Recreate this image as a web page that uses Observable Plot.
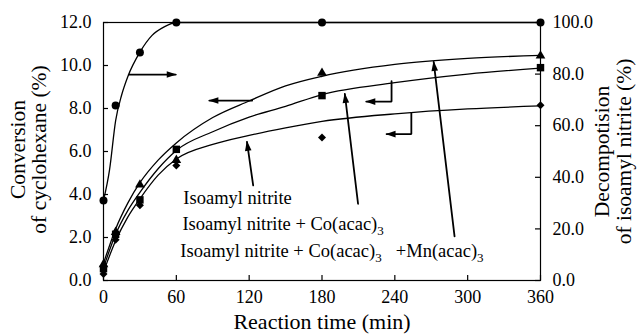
<!DOCTYPE html>
<html><head><meta charset="utf-8">
<script src="https://cdn.jsdelivr.net/npm/d3@7"></script>
<script src="https://cdn.jsdelivr.net/npm/@observablehq/plot@0.6"></script>
<style>
body{margin:0;background:#fff}
</style>
</head><body><div id="chart"></div>
<script>
// measured data (conversion %, decomposition %)
const time = [0, 10, 30, 60, 180, 360];
const nitrite = [0.3, 1.9, 3.5, 5.35, 6.65, 8.15];
const cobalt = [0.55, 2.15, 3.75, 6.1, 8.6, 9.9];
const cobaltMn = [0.75, 2.25, 4.45, 5.6, 9.65, 10.45];
const decomposition = [31, 67.8, 88.4, 100, 100, 100];

// fitted curves
const fitTime = [0, 10, 20, 30, 45, 60, 90, 120, 150, 180, 240, 300, 360];
const fitNitrite = [0.4, 1.85, 2.95, 3.8, 4.9, 5.65, 6.33, 6.75, 7.1, 7.4, 7.75, 7.98, 8.12];
const fitCobalt = [0.6, 2.15, 3.25, 4.1, 5.2, 6.05, 6.92, 7.6, 8.1, 8.65, 9.2, 9.6, 9.88];
const fitCobaltMn = [0.8, 2.4, 3.6, 4.55, 5.6, 6.4, 7.58, 8.35, 9.05, 9.5, 10.05, 10.33, 10.47];
const fitDecompTime = [0, 5, 10, 15, 20, 30, 40, 50, 60, 180, 360];
const fitDecomp = [31, 43, 62, 72, 79, 88.5, 95, 98.3, 100, 100, 100];

// ticks
const xTicks = [0, 60, 120, 180, 240, 300, 360];
const leftTicks = [0, 2, 4, 6, 8, 10, 12];
const rightTicks = [0, 20, 40, 60, 80, 100];

// texts
const labelText = ["Isoamyl nitrite", "Isoamyl nitrite + Co(acac)_3", "Isoamyl nitrite + Co(acac)_3", "+Mn(acac)_3"];
const xTitle = "Reaction time (min)";
const leftTitle = ["Conversion", "of cyclohexane (%)"];
const rightTitle = ["Decompotision", "of isoamyl nitrite (%)"];

// annotation geometry (data units: minutes, conversion %)
const labelPos = [[65.8, 3.58], [65, 2.33], [63.3, 1.07], [240.8, 1.07]];
const arrows = [
  {id: "a1", pts: [[20.8, 9.58], [59.5, 9.58]]},
  {id: "a2", pts: [[122.5, 8.37], [87.2, 8.37]]},
  {id: "a3", pts: [[237.3, 9.27], [237.3, 8.32], [216.5, 8.32]]},
  {id: "a4", pts: [[253.6, 7.78], [253.6, 6.81], [233.2, 6.81]]},
  {id: "a5", pts: [[123.3, 4.42], [118.2, 6.45]]},
  {id: "a6", pts: [[209.7, 3.57], [198.8, 8.68]]},
  {id: "a7", pts: [[289.2, 2.05], [272.0, 10.17]]}
];

const pctToConv = v => v * 12 / 100;
const rows = time.map((t, i) => ({t, ni: nitrite[i], co: cobalt[i], mn: cobaltMn[i], de: pctToConv(decomposition[i])}));
const fitRows = fitTime.map((t, i) => ({t, ni: fitNitrite[i], co: fitCobalt[i], mn: fitCobaltMn[i]}));
const fitDeRows = fitDecompTime.map((t, i) => ({t, de: pctToConv(fitDecomp[i])}));
const arrowPts = arrows.flatMap(a => a.pts.map(([t, v]) => ({id: a.id, t, v})));
const labels = labelText.map((s, i) => ({s, t: labelPos[i][0], v: labelPos[i][1]}));

const arrowHead = (color) => d3.create("svg:marker")
  .attr("viewBox", "-10 -5 11 10")
  .attr("markerUnits", "userSpaceOnUse")
  .attr("markerWidth", 11).attr("markerHeight", 10)
  .attr("orient", "auto")
  .attr("fill", color).attr("stroke", "none")
  .call(m => m.append("path").attr("d", "M-9,-3.3L1,0L-9,3.3Z"))
  .node();

const serif = "Liberation Serif";

function build(marker) {
  return Plot.plot({
    width: 637, height: 334,
    marginLeft: 103, marginRight: 97, marginTop: 22, marginBottom: 54,
    style: {fontFamily: serif, fontSize: "18px", background: "white", color: "black"},
    x: {domain: [0, 360]},
    y: {domain: [0, 12]},
    marks: [
      Plot.tickX(xTicks, {x: d => d, insetTop: 253, stroke: "black", strokeWidth: 1.2}),
      Plot.tickY(leftTicks, {y: d => d, insetRight: 432, stroke: "black", strokeWidth: 1.2}),
      Plot.tickY(rightTicks, {y: d => pctToConv(d), insetLeft: 432, stroke: "black", strokeWidth: 1.2}),
      Plot.axisX(xTicks, {tickSize: 0, tickPadding: 10, label: null, fontSize: 18, fontFamily: serif}),
      Plot.axisY(leftTicks, {anchor: "left", tickSize: 0, tickPadding: 12, label: null, tickFormat: d => d.toFixed(1), fontSize: 18, fontFamily: serif}),
      Plot.axisY(rightTicks.map(pctToConv), {anchor: "right", tickSize: 0, tickPadding: 12, label: null, tickFormat: d => (d * 100 / 12).toFixed(1), fontSize: 18, fontFamily: serif}),
      Plot.frame({stroke: "black", strokeWidth: 1.2}),
      Plot.line(fitDeRows, {x: "t", y: "de", curve: "monotone-x", stroke: "black", strokeWidth: 1.3}),
      Plot.line(fitRows, {x: "t", y: "ni", curve: "monotone-x", stroke: "black", strokeWidth: 1.3}),
      Plot.line(fitRows, {x: "t", y: "co", curve: "monotone-x", stroke: "black", strokeWidth: 1.3}),
      Plot.line(fitRows, {x: "t", y: "mn", curve: "monotone-x", stroke: "black", strokeWidth: 1.3}),
      Plot.dot(rows, {x: "t", y: "de", symbol: "circle", fill: "black", r: 4}),
      Plot.dot(rows, {x: "t", y: "co", symbol: "square", fill: "black", r: 4.2}),
      Plot.dot(rows, {x: "t", y: "mn", symbol: "triangle", fill: "black", r: 3.6}),
      Plot.dot(rows, {x: "t", y: "ni", symbol: "diamond2", fill: "black", r: 3.6}),
      Plot.line(arrowPts, {x: "t", y: "v", z: "id", stroke: "black", strokeWidth: 1.8, strokeLinejoin: "miter", markerEnd: marker}),
      Plot.text(labels, {x: "t", y: "v", text: "s", textAnchor: "start", lineAnchor: "bottom", fontSize: 18.5, fontFamily: serif}),
      Plot.text([xTitle], {text: d => d, frameAnchor: "bottom", dy: 48, lineAnchor: "bottom", fontSize: 22, fontFamily: serif}),
      Plot.text([leftTitle[0]], {text: d => d, frameAnchor: "left", rotate: -90, dx: -85, dy: -2, textAnchor: "middle", lineAnchor: "middle", fontSize: 21.5, fontFamily: serif}),
      Plot.text([leftTitle[1]], {text: d => d, frameAnchor: "left", rotate: -90, dx: -64, dy: -2, textAnchor: "middle", lineAnchor: "middle", fontSize: 21.5, fontFamily: serif}),
      Plot.text([rightTitle[0]], {text: d => d, frameAnchor: "right", rotate: -90, dx: 62, textAnchor: "middle", lineAnchor: "middle", fontSize: 21.5, fontFamily: serif}),
      Plot.text([rightTitle[1]], {text: d => d, frameAnchor: "right", rotate: -90, dx: 84, textAnchor: "middle", lineAnchor: "middle", fontSize: 21.5, fontFamily: serif})
    ]
  });
}

let chart;
try { chart = build(arrowHead); } catch (e) { chart = build("arrow"); }

// subscripts: "_3" -> lowered smaller 3
d3.select(chart).selectAll("text").each(function () {
  const s = this.textContent;
  if (!s.includes("_")) return;
  const el = d3.select(this);
  el.text(null);
  const parts = s.split(/(_\d)/).filter(p => p);
  let lowered = false;
  parts.forEach(part => {
    if (part.startsWith("_")) {
      el.append("tspan").attr("dy", 5).attr("font-size", 13).text(part.slice(1));
      lowered = true;
    } else {
      const t = el.append("tspan").text(part);
      if (lowered) { t.attr("dy", -5); lowered = false; }
    }
  });
});

document.getElementById("chart").appendChild(chart);
</script>
</body></html>
